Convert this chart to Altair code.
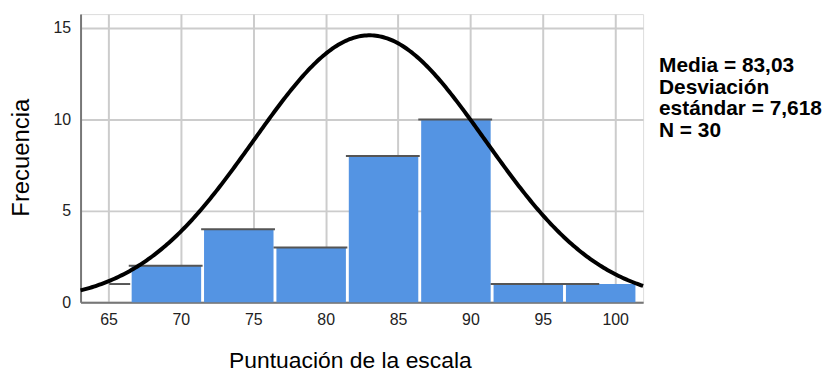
import altair as alt
import numpy as np
import pandas as pd

# ---- data ----
bin_start = [61.5, 66.5, 71.5, 76.5, 81.5, 86.5, 91.5, 96.5]
bin_end   = [66.5, 71.5, 76.5, 81.5, 86.5, 91.5, 96.5, 101.5]
counts    = [1, 2, 4, 3, 8, 10, 1, 1]
filled    = [False, True, True, True, True, True, True, True]
# visible extent of the dark top edge of each bar
top_start = [65.05, 66.4, 71.4, 76.4, 81.4, 86.4, 91.4, 96.4]
top_end   = [66.5, 71.5, 76.5, 81.5, 86.5, 91.5, 96.5, 98.9]

x_ticks = [65, 70, 75, 80, 85, 90, 95, 100]
y_ticks = [0, 5, 10, 15]
x_domain = [63.07, 101.93]
y_domain = [0, 15.76]

# normal curve parameters (mean from legend; drawn width / height)
curve_mean = 83.03
curve_sd_drawn = 8.0
curve_peak = 14.6

stats_lines = ["Media = 83,03", "Desviación", "estándar = 7,618", "N = 30"]

BAR = "#5494e3"
GAP = 0.1

bars = pd.DataFrame({
    "x0": [s + GAP for s in bin_start],
    "x1": [e - GAP for e in bin_end],
    "n": counts,
    "fill": [BAR if f else "transparent" for f in filled],
})
tops = pd.DataFrame({"x0": top_start, "x1": top_end, "n": counts})

xs = np.linspace(x_domain[0], x_domain[1], 300)
curve = pd.DataFrame({
    "x": xs,
    "y": curve_peak * np.exp(-((xs - curve_mean) ** 2) / (2 * curve_sd_drawn ** 2)),
})

FONT = "Liberation Sans"
xscale = alt.Scale(domain=x_domain, nice=False, zero=False)
yscale = alt.Scale(domain=y_domain, nice=False, zero=False)

xaxis = alt.Axis(
    values=x_ticks, title="Puntuación de la escala", grid=True, ticks=False,
    labelFont=FONT, labelFontSize=16, labelColor="#222", labelPadding=9,
    titleFont=FONT, titleFontSize=23, titleFontWeight="normal", titleColor="#000",
    titleX=271, titleY=66, titleBaseline="alphabetic", titleAnchor="start", titleAlign="center",
    domainColor="#777", domainWidth=2, gridColor="#cccccc", gridWidth=2,
)
yaxis = alt.Axis(
    values=y_ticks, title="Frecuencia", grid=True, ticks=False,
    labelFont=FONT, labelFontSize=16, labelColor="#222", labelPadding=10,
    titleFont=FONT, titleFontSize=24, titleFontWeight="normal", titleColor="#000",
    titleX=-59, titleY=144, titleAngle=270, titleBaseline="middle", titleAlign="center",
    domainColor="#777", domainWidth=2, gridColor="#cccccc", gridWidth=2,
)

bar_layer = alt.Chart(bars).mark_rect().encode(
    x=alt.X("x0:Q", scale=xscale, axis=xaxis),
    x2="x1:Q",
    y=alt.Y("n:Q", scale=yscale, axis=yaxis),
    y2=alt.datum(0),
    fill=alt.Fill("fill:N", scale=None),
)

top_layer = alt.Chart(tops).mark_rule(color="#555", strokeWidth=2).encode(
    x=alt.X("x0:Q", scale=xscale),
    x2="x1:Q",
    y=alt.Y("n:Q", scale=yscale),
)

curve_layer = alt.Chart(curve).mark_line(color="#000", strokeWidth=4).encode(
    x=alt.X("x:Q", scale=xscale),
    y=alt.Y("y:Q", scale=yscale),
)

stats = alt.Chart(pd.DataFrame({"t": ["\n".join(stats_lines)]})).mark_text(
    font=FONT, fontSize=21, fontWeight="bold", align="left", baseline="alphabetic",
    lineBreak="\n", lineHeight=22, color="#000",
).encode(x=alt.value(582), y=alt.value(58), text="t:N")

chart = alt.layer(bar_layer, top_layer, curve_layer, stats).properties(
    width=566, height=290,
    autosize=alt.AutoSizeParams(type="none"),
    padding={"left": 73, "top": 5, "right": 180, "bottom": 71},
).configure_view(stroke=None).configure(background="white")

chart.save("out.html", embed_options={"renderer": "svg", "actions": False})
